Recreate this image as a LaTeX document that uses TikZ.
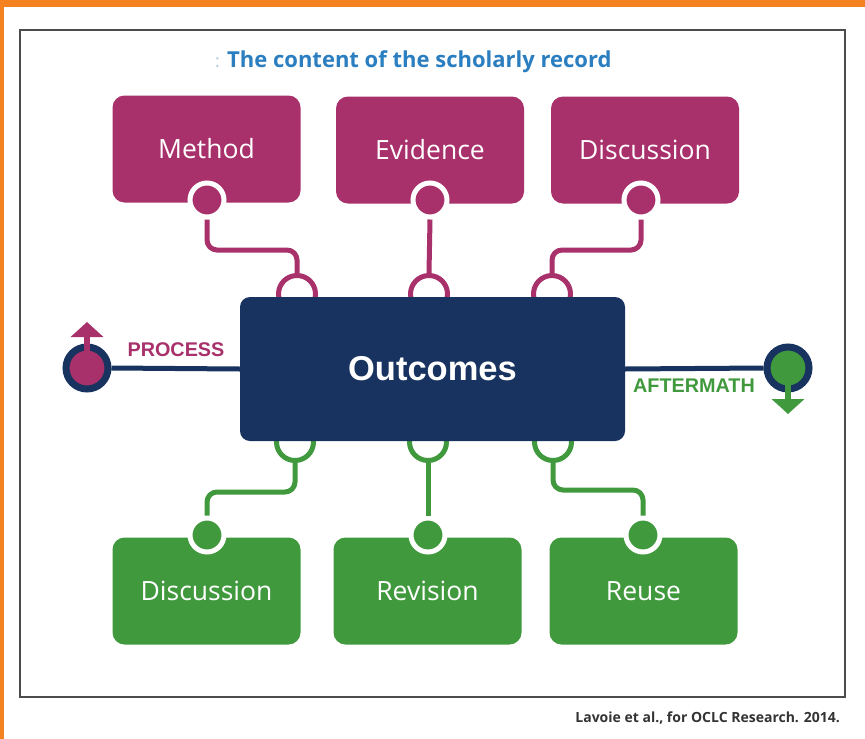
\documentclass[tikz,border=0pt]{standalone}
\usepackage{fontspec}
\setmainfont{Open Sans}
\newfontfamily\arialf{Liberation Sans}
\usetikzlibrary{arrows.meta}
\definecolor{mag}{HTML}{A8306B}
\definecolor{grn}{HTML}{41993E}
\definecolor{navy}{HTML}{18335F}
\definecolor{ttl}{HTML}{2B7FC1}
\definecolor{org}{HTML}{F58220}
\begin{document}
\begin{tikzpicture}[x=1pt,y=-1pt,
  box/.style={rounded corners=12pt, minimum width=188pt, minimum height=107pt, text=white, font=\fontsize{26.5}{30}\selectfont, inner sep=0pt},
  topbox/.style={box, fill=mag},
  botbox/.style={box, fill=grn},
  plug/.style={circle, draw=white, line width=5pt, minimum size=34pt, inner sep=0pt},
  socket/.style={circle, line width=5pt, minimum size=37pt, inner sep=0pt},
  wire/.style={line width=5pt, rounded corners=10pt},
  endcirc/.style={circle, draw=navy, line width=7pt, minimum size=42pt, inner sep=0pt},
  sidelabel/.style={font=\arialf\bfseries\fontsize{19.8}{22}\selectfont},
]
\useasboundingbox (0,0) rectangle (865,739);
\fill[white] (0,0) rectangle (865,739);
% orange page edges
\fill[org] (0,0) rectangle (865,7);
\fill[org] (0,0) rectangle (4,739);
% frame
\draw[gray!60!black, line width=1.5pt] (20,30) rectangle (845,697);

% title
\node[anchor=west, inner sep=0pt, text=ttl, font=\bfseries\fontsize{22}{26}\selectfont] (title) at (227,62) {The content of the scholarly record};
\node[anchor=east, inner sep=0pt, text=ttl!40, font=\fontsize{18}{22}\selectfont] (colon) at (220,63) {:};

% sockets (arches) on the central box
\node[socket, draw=mag] (am) at (297,294) {};
\node[socket, draw=mag] (ae) at (429,294) {};
\node[socket, draw=mag] (ad) at (552,294) {};
\node[socket, draw=grn] (bd) at (295,442) {};
\node[socket, draw=grn] (br) at (428,442) {};
\node[socket, draw=grn] (bu) at (553,442) {};

% central box
\node[fill=navy, rounded corners=10pt, minimum width=385pt, minimum height=144pt, inner sep=0pt,
      text=white, font=\arialf\bfseries\fontsize{34.5}{38}\selectfont] (out) at (432.5,369) {Outcomes};

% top boxes
\node[topbox] (method) at (206.5,149) {Method};
\node[topbox] (evid) at (430,150) {Evidence};
\node[topbox] (disc) at (645,150) {Discussion};
% bottom boxes
\node[botbox] (disc2) at (206.5,591) {Discussion};
\node[botbox] (rev) at (427.5,591) {Revision};
\node[botbox] (reuse) at (643.5,591) {Reuse};

% plugs
\node[plug, fill=mag] (pm) at (207,200) {};
\node[plug, fill=mag] (pe) at (430,200) {};
\node[plug, fill=mag] (pd) at (641,200) {};
\node[plug, fill=grn] (qd) at (207,535) {};
\node[plug, fill=grn] (qr) at (428,535) {};
\node[plug, fill=grn] (qu) at (643,535) {};

% wires
\coordinate (km) at (250,250);
\coordinate (kd) at (600,250);
\coordinate (lm) at (250,492);
\coordinate (lu) at (600,490);
\draw[wire, mag] (pm.south) |- (km) -| (am.north);
\draw[wire, mag] (pe.south) -- (ae.north);
\draw[wire, mag] (pd.south) |- (kd) -| (ad.north);
\draw[wire, grn] (bd.south) |- (lm) -| (qd.north);
\draw[wire, grn] (br.south) -- (qr.north);
\draw[wire, grn] (bu.south) |- (lu) -| (qu.north);

% process / aftermath
\node[endcirc, fill=mag] (pc) at (87,368) {};
\node[endcirc, fill=grn] (ac) at (788,368) {};
\draw[navy, line width=5pt] (out.west) -- (pc.east);
\draw[navy, line width=5pt] (out.east) -- (ac.west);
\coordinate (ptip) at (87,322);
\coordinate (atip) at (788,414);
\draw[mag, line width=6pt, -{Triangle[width=32pt,length=15pt]}] (pc.center) -- (ptip);
\draw[grn, line width=6pt, -{Triangle[width=32pt,length=15pt]}] (ac.center) -- (atip);
\node[sidelabel, text=mag] (plabel) at (176,350) {PROCESS};
\node[sidelabel, text=grn] (alabel) at (694,386) {AFTERMATH};

% credit
\node[anchor=east, inner sep=0pt, text=black!80, font=\bfseries\fontsize{14}{16}\selectfont] (credit) at (840,718) {Lavoie et al., for OCLC Research. 2014.};
\end{tikzpicture}
\end{document}
